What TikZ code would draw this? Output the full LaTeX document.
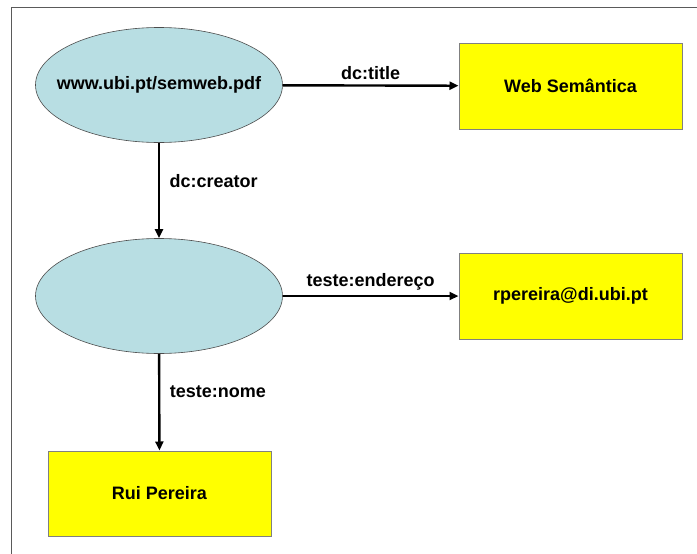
\documentclass[tikz,border=0pt]{standalone}
\usepackage{fontspec}
\setmainfont{Liberation Sans}
\usetikzlibrary{arrows.meta,shapes.geometric}

\definecolor{resblue}{RGB}{184,222,227}
\definecolor{lityellow}{RGB}{255,255,0}
\definecolor{framegray}{RGB}{90,90,90}

\tikzset{
  resource/.style={ellipse, draw=black!70, line width=0.6pt, fill=resblue,
    minimum width=247pt, minimum height=115pt, inner sep=0pt},
  literal/.style={rectangle, draw=black!50, line width=1pt, fill=lityellow,
    minimum width=223pt, minimum height=86pt, inner sep=0pt},
  prop/.style={line width=2.4pt, -{Triangle[length=9pt,width=8pt]}},
  every node/.style={font=\fontsize{18}{21}\selectfont\bfseries}
}

\begin{document}
\begin{tikzpicture}[x=1pt,y=-1pt]
\useasboundingbox (0,0) rectangle (697,554);
% frame
\draw[framegray, line width=1.3pt] (11.5,554) -- (11.5,7.5) -- (697,7.5);

% nodes
\node[resource, label=center:{www.ubi.pt/semweb.pdf}] (doc) at (159,85) {};
\node[resource] (author) at (159,296) {};
\node[literal] (title) at (570.5,86) {Web Semântica};
\node[literal] (email) at (570.5,296) {rpereira@di.ubi.pt};
\node[literal, minimum height=85pt] (name) at (159.5,493.5) {Rui Pereira};

% properties
\draw[prop] (doc) -- node[above=1pt] {dc:title} (title);
\draw[prop] (doc) -- node[right=6pt, pos=0.4] {dc:creator} (author);
\draw[prop] (author) -- node[above=1pt] {teste:endereço} (email);
\draw[prop] (author) -- node[right=6pt, pos=0.39] {teste:nome} (name);
\end{tikzpicture}
\end{document}
